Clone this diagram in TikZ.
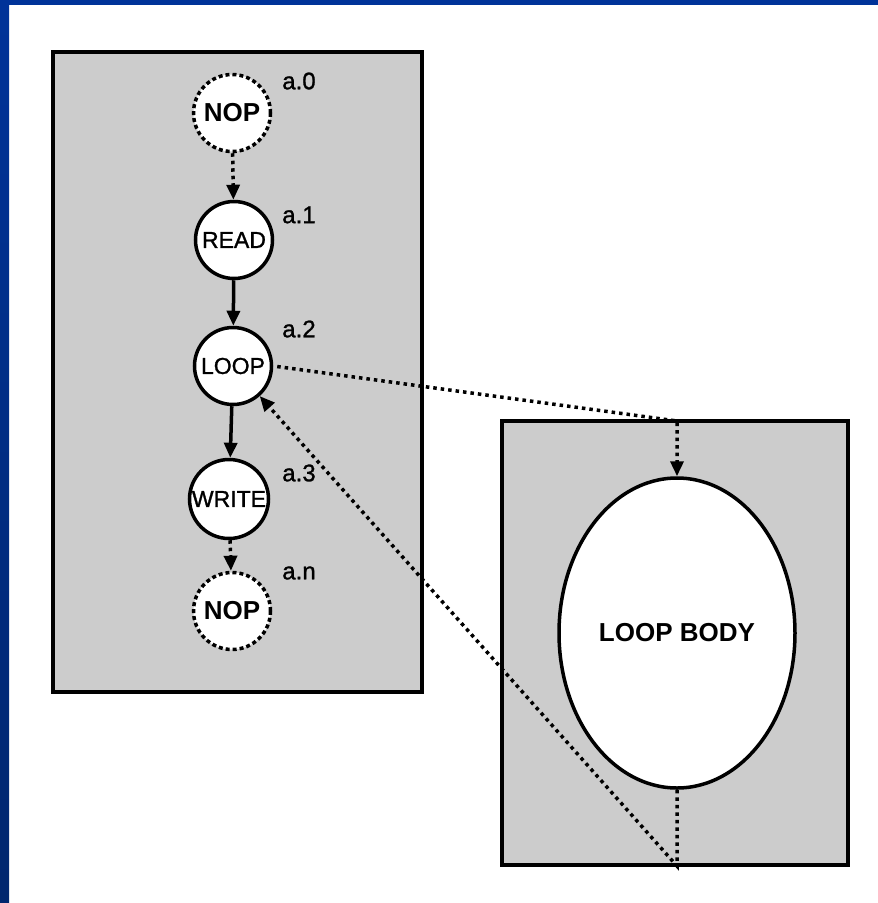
\documentclass[tikz,border=0pt]{standalone}
\usepackage{fontspec}
\setmainfont{Liberation Sans}
\newfontfamily\mediumsans[FakeBold=1.2]{Liberation Sans}
\usetikzlibrary{arrows.meta,shapes.geometric}
\definecolor{slideblue}{HTML}{003399}
\definecolor{slidebluedark}{HTML}{00266E}
\definecolor{panelgray}{HTML}{CCCCCC}
\tikzset{
  panel/.style={draw=black, fill=panelgray, line width=3.5pt},
  opnode/.style={circle, draw=black, fill=white, line width=3.5pt, minimum size=#1, inner sep=0pt,
                 font=\fontsize{23}{23}\mediumsans},
  opnode/.default=77pt,
  nopnode/.style={opnode, dash pattern=on 4pt off 3pt,
                  font=\fontsize{26}{26}\selectfont\bfseries},
  tag/.style={font=\fontsize{24}{24}\mediumsans, inner sep=0pt},
  flow/.style={line width=3.5pt, -{Triangle[length=15pt,width=13pt]}},
  dotflow/.style={flow, dash pattern=on 3.5pt off 4pt},
}
\begin{document}
\begin{tikzpicture}[x=1pt, y=-1pt]
  \useasboundingbox (0,0) rectangle (878,903);
  % slide frame
  \fill[white] (0,0) rectangle (878,903);
  \shade[top color=slideblue, bottom color=slidebluedark] (0,0) rectangle (9,903);
  \fill[slideblue] (0,0) rectangle (878,5);

  % panels
  \draw[panel] (53,52) rectangle (422,692);
  \draw[panel] (502,421) rectangle (848,865);

  % operation chain
  \node[nopnode] (nop0) at (232,113) {NOP};
  \node[opnode] (read) at (234,240) {READ};
  \node[opnode] (loop) at (233,366) {LOOP};
  \node[opnode=79pt] (write) at (229,499) {WRITE};
  \node[nopnode] (nopn) at (232,611) {NOP};

  \node[tag] (t0) at (299,81) {a.0};
  \node[tag] (t1) at (299,215) {a.1};
  \node[tag] (t2) at (299,329) {a.2};
  \node[tag] (t3) at (299,473) {a.3};
  \node[tag] (tn) at (299,573) {a.n};

  % loop body
  \node[ellipse, draw=black, fill=white, line width=3.5pt, minimum width=236pt, minimum height=310pt,
        inner sep=0pt, font=\fontsize{26}{26}\selectfont\bfseries] (body) at (677,633) {LOOP BODY};

  \coordinate (entry) at (677,421);
  \coordinate (exit) at (677,866);

  % connectors
  \draw[dotflow] (nop0) -- (read);
  \draw[flow] (read) -- (loop);
  \draw[flow] (loop) -- (write);
  \draw[dotflow] (write) -- (nopn);
  \draw[dotflow, shorten <=4pt] (loop.east) -- (entry) -- (body.north);
  \draw[dotflow] (body.south) -- (exit) -- (loop);
\end{tikzpicture}
\end{document}
